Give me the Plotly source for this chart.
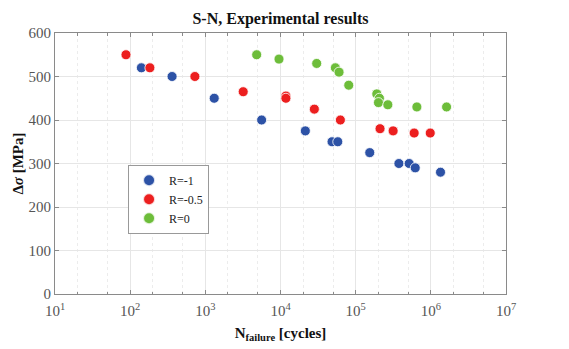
import plotly.graph_objects as go

# Data
r_m1_N = [141, 361, 1313, 5610, 21400, 48500, 57800, 154000, 376000, 515000, 620000, 1345000]
r_m1_S = [520, 500, 450, 400, 375, 350, 350, 325, 300, 300, 290, 280]

r_m05_N = [88, 183, 726, 3190, 11800, 11800, 28200, 62600, 211000, 315000, 600000, 982000]
r_m05_S = [550, 520, 500, 465, 455, 450, 425, 400, 380, 375, 370, 370]

r_0_N = [4820, 9550, 30300, 53700, 60100, 80900, 191000, 207000, 201000, 268000, 652000, 1620000]
r_0_S = [550, 540, 530, 520, 510, 480, 460, 450, 440, 435, 430, 430]

x_tickvals = [10, 100, 1000, 1e4, 1e5, 1e6, 1e7]
x_ticktext = ["10<sup>%d</sup>" % k for k in range(1, 8)]
y_tickvals = [0, 100, 200, 300, 400, 500, 600]

series = [
    ("R=-1", r_m1_N, r_m1_S, "#2d52a6"),
    ("R=-0.5", r_m05_N, r_m05_S, "#ec1f1f"),
    ("R=0", r_0_N, r_0_S, "#6dbd3a"),
]

fig = go.Figure()
for name, xs, ys, col in series:
    fig.add_trace(go.Scatter(
        x=xs, y=ys, mode="markers", name=name,
        marker=dict(color=col, size=10, line=dict(color="rgba(255,255,255,0.8)", width=1)),
    ))

serif = "Liberation Serif, Times New Roman, serif"
axcol = "#8a8a8a"

fig.update_layout(
    width=561, height=341,
    margin=dict(l=47, r=63, t=25, b=55, autoexpand=False),
    paper_bgcolor="white", plot_bgcolor="white",
    title=dict(text="<b>S-N, Experimental results</b>", x=0.5, xanchor="center",
               xref="paper", y=0.97, yanchor="middle",
               font=dict(family=serif, size=16, color="#111")),
    font=dict(family=serif, color="#555"),
    legend=dict(x=0.162, y=0.495, xanchor="left", yanchor="top",
                bgcolor="white", bordercolor="#999", borderwidth=1,
                font=dict(family=serif, size=12, color="#222"),
                itemsizing="constant", tracegroupgap=0, itemwidth=30),
)

fig.update_xaxes(
    type="log", range=[1, 7], automargin=False,
    tickvals=x_tickvals, ticktext=x_ticktext,
    tickfont=dict(family=serif, size=15, color="#555"),
    ticklabelstandoff=3,
    showline=True, linecolor=axcol, linewidth=1, mirror="allticks",
    ticks="inside", ticklen=4, tickcolor=axcol,
    showgrid=True, gridcolor="#e6e6e6", gridwidth=1,
    minor=dict(ticks="inside", ticklen=2.5, tickcolor=axcol, showgrid=True,
               gridcolor="#ececec", griddash="dot"),
    zeroline=False,
    title=dict(text="<b>N<sub>failure</sub> [cycles]</b>", standoff=9,
               font=dict(family=serif, size=15, color="#111")),
)
fig.update_yaxes(
    range=[0, 600], tickvals=y_tickvals, automargin=False,
    tickfont=dict(family=serif, size=15, color="#555"),
    showline=True, linecolor=axcol, linewidth=1, mirror="allticks",
    ticks="inside", ticklen=4, tickcolor=axcol,
    showgrid=True, gridcolor="#e6e6e6", gridwidth=1,
    zeroline=False,
    title=dict(text="<b>Δ<i>σ</i> [MPa]</b>", standoff=1,
               font=dict(family=serif, size=15, color="#111")),
)

fig.write_html("out.html")
